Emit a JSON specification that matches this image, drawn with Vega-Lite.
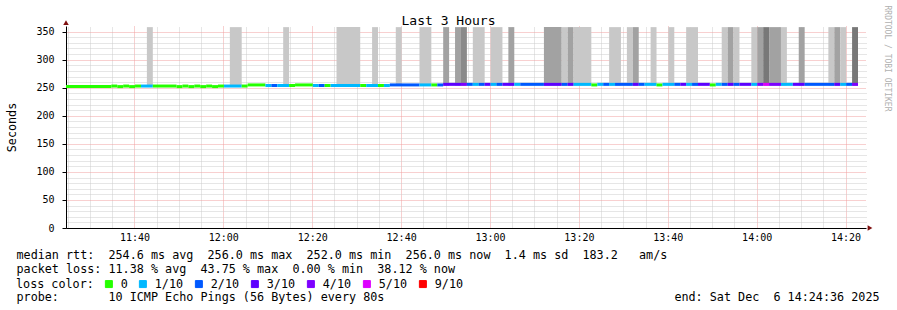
{
  "$schema": "https://vega.github.io/schema/vega-lite/v6.json",
  "width": 800,
  "height": 202,
  "autosize": {"type": "none"},
  "padding": {"left": 66, "top": 26, "right": 31, "bottom": 82},
  "background": "white",
  "config": {
    "font": "DejaVu Sans Mono",
    "view": {"stroke": null}
  },
  "datasets": {
    "median": [
      {"t0":"2025-12-06T11:24:36Z","t1":"2025-12-06T11:34:48Z","rtt":252,"loss":"0"},
      {"t0":"2025-12-06T11:34:48Z","t1":"2025-12-06T11:36:08Z","rtt":253,"loss":"0"},
      {"t0":"2025-12-06T11:36:08Z","t1":"2025-12-06T11:37:28Z","rtt":252,"loss":"0"},
      {"t0":"2025-12-06T11:37:28Z","t1":"2025-12-06T11:38:48Z","rtt":253,"loss":"0"},
      {"t0":"2025-12-06T11:38:48Z","t1":"2025-12-06T11:40:08Z","rtt":252,"loss":"0"},
      {"t0":"2025-12-06T11:40:08Z","t1":"2025-12-06T11:41:28Z","rtt":253,"loss":"0"},
      {"t0":"2025-12-06T11:41:28Z","t1":"2025-12-06T11:44:08Z","rtt":253,"loss":"1/10"},
      {"t0":"2025-12-06T11:44:08Z","t1":"2025-12-06T11:49:28Z","rtt":253,"loss":"0"},
      {"t0":"2025-12-06T11:49:28Z","t1":"2025-12-06T11:50:48Z","rtt":252,"loss":"0"},
      {"t0":"2025-12-06T11:50:48Z","t1":"2025-12-06T11:52:08Z","rtt":253,"loss":"0"},
      {"t0":"2025-12-06T11:52:08Z","t1":"2025-12-06T11:53:28Z","rtt":252,"loss":"0"},
      {"t0":"2025-12-06T11:53:28Z","t1":"2025-12-06T11:54:48Z","rtt":253,"loss":"0"},
      {"t0":"2025-12-06T11:54:48Z","t1":"2025-12-06T11:56:08Z","rtt":252,"loss":"0"},
      {"t0":"2025-12-06T11:56:08Z","t1":"2025-12-06T11:57:28Z","rtt":253,"loss":"0"},
      {"t0":"2025-12-06T11:57:28Z","t1":"2025-12-06T11:58:48Z","rtt":252,"loss":"0"},
      {"t0":"2025-12-06T11:58:48Z","t1":"2025-12-06T12:00:08Z","rtt":253,"loss":"0"},
      {"t0":"2025-12-06T12:00:08Z","t1":"2025-12-06T12:04:08Z","rtt":253,"loss":"1/10"},
      {"t0":"2025-12-06T12:04:08Z","t1":"2025-12-06T12:05:28Z","rtt":253,"loss":"0"},
      {"t0":"2025-12-06T12:05:28Z","t1":"2025-12-06T12:09:28Z","rtt":255,"loss":"0"},
      {"t0":"2025-12-06T12:09:28Z","t1":"2025-12-06T12:10:48Z","rtt":254,"loss":"1/10"},
      {"t0":"2025-12-06T12:10:48Z","t1":"2025-12-06T12:12:08Z","rtt":254,"loss":"2/10"},
      {"t0":"2025-12-06T12:12:08Z","t1":"2025-12-06T12:14:48Z","rtt":254,"loss":"1/10"},
      {"t0":"2025-12-06T12:14:48Z","t1":"2025-12-06T12:16:08Z","rtt":254,"loss":"0"},
      {"t0":"2025-12-06T12:16:08Z","t1":"2025-12-06T12:20:08Z","rtt":255,"loss":"0"},
      {"t0":"2025-12-06T12:20:08Z","t1":"2025-12-06T12:21:28Z","rtt":254,"loss":"1/10"},
      {"t0":"2025-12-06T12:21:28Z","t1":"2025-12-06T12:22:48Z","rtt":254,"loss":"2/10"},
      {"t0":"2025-12-06T12:22:48Z","t1":"2025-12-06T12:24:08Z","rtt":254,"loss":"0"},
      {"t0":"2025-12-06T12:24:08Z","t1":"2025-12-06T12:30:48Z","rtt":254,"loss":"1/10"},
      {"t0":"2025-12-06T12:30:48Z","t1":"2025-12-06T12:32:08Z","rtt":254,"loss":"0"},
      {"t0":"2025-12-06T12:32:08Z","t1":"2025-12-06T12:34:48Z","rtt":254,"loss":"1/10"},
      {"t0":"2025-12-06T12:34:48Z","t1":"2025-12-06T12:36:08Z","rtt":254,"loss":"0"},
      {"t0":"2025-12-06T12:36:08Z","t1":"2025-12-06T12:37:28Z","rtt":254,"loss":"1/10"},
      {"t0":"2025-12-06T12:37:28Z","t1":"2025-12-06T12:44:08Z","rtt":255,"loss":"2/10"},
      {"t0":"2025-12-06T12:44:08Z","t1":"2025-12-06T12:46:48Z","rtt":255,"loss":"1/10"},
      {"t0":"2025-12-06T12:46:48Z","t1":"2025-12-06T12:48:08Z","rtt":255,"loss":"0"},
      {"t0":"2025-12-06T12:48:08Z","t1":"2025-12-06T12:49:28Z","rtt":255,"loss":"2/10"},
      {"t0":"2025-12-06T12:49:28Z","t1":"2025-12-06T12:53:28Z","rtt":256,"loss":"3/10"},
      {"t0":"2025-12-06T12:53:28Z","t1":"2025-12-06T12:54:48Z","rtt":256,"loss":"4/10"},
      {"t0":"2025-12-06T12:54:48Z","t1":"2025-12-06T12:56:08Z","rtt":256,"loss":"2/10"},
      {"t0":"2025-12-06T12:56:08Z","t1":"2025-12-06T12:57:28Z","rtt":256,"loss":"1/10"},
      {"t0":"2025-12-06T12:57:28Z","t1":"2025-12-06T12:58:48Z","rtt":256,"loss":"2/10"},
      {"t0":"2025-12-06T12:58:48Z","t1":"2025-12-06T13:00:08Z","rtt":256,"loss":"3/10"},
      {"t0":"2025-12-06T13:00:08Z","t1":"2025-12-06T13:01:28Z","rtt":256,"loss":"1/10"},
      {"t0":"2025-12-06T13:01:28Z","t1":"2025-12-06T13:02:48Z","rtt":256,"loss":"2/10"},
      {"t0":"2025-12-06T13:02:48Z","t1":"2025-12-06T13:05:28Z","rtt":256,"loss":"3/10"},
      {"t0":"2025-12-06T13:05:28Z","t1":"2025-12-06T13:06:48Z","rtt":256,"loss":"1/10"},
      {"t0":"2025-12-06T13:06:48Z","t1":"2025-12-06T13:12:08Z","rtt":256,"loss":"2/10"},
      {"t0":"2025-12-06T13:12:08Z","t1":"2025-12-06T13:16:08Z","rtt":256,"loss":"3/10"},
      {"t0":"2025-12-06T13:16:08Z","t1":"2025-12-06T13:17:28Z","rtt":256,"loss":"2/10"},
      {"t0":"2025-12-06T13:17:28Z","t1":"2025-12-06T13:18:48Z","rtt":256,"loss":"3/10"},
      {"t0":"2025-12-06T13:18:48Z","t1":"2025-12-06T13:22:48Z","rtt":256,"loss":"1/10"},
      {"t0":"2025-12-06T13:22:48Z","t1":"2025-12-06T13:24:08Z","rtt":255,"loss":"0"},
      {"t0":"2025-12-06T13:24:08Z","t1":"2025-12-06T13:25:28Z","rtt":256,"loss":"1/10"},
      {"t0":"2025-12-06T13:25:28Z","t1":"2025-12-06T13:26:48Z","rtt":256,"loss":"2/10"},
      {"t0":"2025-12-06T13:26:48Z","t1":"2025-12-06T13:28:08Z","rtt":256,"loss":"1/10"},
      {"t0":"2025-12-06T13:28:08Z","t1":"2025-12-06T13:32:08Z","rtt":256,"loss":"2/10"},
      {"t0":"2025-12-06T13:32:08Z","t1":"2025-12-06T13:33:28Z","rtt":256,"loss":"3/10"},
      {"t0":"2025-12-06T13:33:28Z","t1":"2025-12-06T13:34:48Z","rtt":256,"loss":"2/10"},
      {"t0":"2025-12-06T13:34:48Z","t1":"2025-12-06T13:37:28Z","rtt":256,"loss":"1/10"},
      {"t0":"2025-12-06T13:37:28Z","t1":"2025-12-06T13:38:48Z","rtt":255,"loss":"0"},
      {"t0":"2025-12-06T13:38:48Z","t1":"2025-12-06T13:41:28Z","rtt":256,"loss":"1/10"},
      {"t0":"2025-12-06T13:41:28Z","t1":"2025-12-06T13:42:48Z","rtt":256,"loss":"2/10"},
      {"t0":"2025-12-06T13:42:48Z","t1":"2025-12-06T13:44:08Z","rtt":256,"loss":"3/10"},
      {"t0":"2025-12-06T13:44:08Z","t1":"2025-12-06T13:45:28Z","rtt":256,"loss":"1/10"},
      {"t0":"2025-12-06T13:45:28Z","t1":"2025-12-06T13:46:48Z","rtt":256,"loss":"2/10"},
      {"t0":"2025-12-06T13:46:48Z","t1":"2025-12-06T13:49:28Z","rtt":256,"loss":"3/10"},
      {"t0":"2025-12-06T13:49:28Z","t1":"2025-12-06T13:50:48Z","rtt":255,"loss":"0"},
      {"t0":"2025-12-06T13:50:48Z","t1":"2025-12-06T13:52:08Z","rtt":256,"loss":"1/10"},
      {"t0":"2025-12-06T13:52:08Z","t1":"2025-12-06T13:53:28Z","rtt":256,"loss":"2/10"},
      {"t0":"2025-12-06T13:53:28Z","t1":"2025-12-06T13:54:48Z","rtt":256,"loss":"3/10"},
      {"t0":"2025-12-06T13:54:48Z","t1":"2025-12-06T13:56:08Z","rtt":256,"loss":"2/10"},
      {"t0":"2025-12-06T13:56:08Z","t1":"2025-12-06T13:58:48Z","rtt":256,"loss":"3/10"},
      {"t0":"2025-12-06T13:58:48Z","t1":"2025-12-06T14:00:08Z","rtt":256,"loss":"1/10"},
      {"t0":"2025-12-06T14:00:08Z","t1":"2025-12-06T14:01:28Z","rtt":256,"loss":"4/10"},
      {"t0":"2025-12-06T14:01:28Z","t1":"2025-12-06T14:02:48Z","rtt":256,"loss":"5/10"},
      {"t0":"2025-12-06T14:02:48Z","t1":"2025-12-06T14:05:28Z","rtt":256,"loss":"4/10"},
      {"t0":"2025-12-06T14:05:28Z","t1":"2025-12-06T14:08:08Z","rtt":256,"loss":"1/10"},
      {"t0":"2025-12-06T14:08:08Z","t1":"2025-12-06T14:10:48Z","rtt":256,"loss":"3/10"},
      {"t0":"2025-12-06T14:10:48Z","t1":"2025-12-06T14:17:28Z","rtt":256,"loss":"2/10"},
      {"t0":"2025-12-06T14:17:28Z","t1":"2025-12-06T14:18:48Z","rtt":256,"loss":"3/10"},
      {"t0":"2025-12-06T14:18:48Z","t1":"2025-12-06T14:20:08Z","rtt":256,"loss":"1/10"},
      {"t0":"2025-12-06T14:20:08Z","t1":"2025-12-06T14:21:28Z","rtt":256,"loss":"2/10"},
      {"t0":"2025-12-06T14:21:28Z","t1":"2025-12-06T14:22:48Z","rtt":256,"loss":"4/10"}
    ],
    "smoke": [
      {"t0":"2025-12-06T11:42:48Z","t1":"2025-12-06T11:44:08Z","lo":254,"hi":358,"level":1},
      {"t0":"2025-12-06T12:01:28Z","t1":"2025-12-06T12:04:08Z","lo":254,"hi":358,"level":1},
      {"t0":"2025-12-06T12:13:28Z","t1":"2025-12-06T12:14:48Z","lo":254,"hi":358,"level":1},
      {"t0":"2025-12-06T12:25:28Z","t1":"2025-12-06T12:30:48Z","lo":254,"hi":358,"level":1},
      {"t0":"2025-12-06T12:33:28Z","t1":"2025-12-06T12:34:48Z","lo":254,"hi":358,"level":1},
      {"t0":"2025-12-06T12:38:48Z","t1":"2025-12-06T12:40:08Z","lo":254,"hi":358,"level":1},
      {"t0":"2025-12-06T12:44:08Z","t1":"2025-12-06T12:46:48Z","lo":254,"hi":358,"level":1},
      {"t0":"2025-12-06T12:49:28Z","t1":"2025-12-06T12:50:48Z","lo":254,"hi":358,"level":2},
      {"t0":"2025-12-06T12:52:08Z","t1":"2025-12-06T12:53:28Z","lo":254,"hi":358,"level":2},
      {"t0":"2025-12-06T12:53:28Z","t1":"2025-12-06T12:54:48Z","lo":254,"hi":358,"level":3},
      {"t0":"2025-12-06T12:56:08Z","t1":"2025-12-06T12:58:48Z","lo":254,"hi":358,"level":1},
      {"t0":"2025-12-06T13:00:08Z","t1":"2025-12-06T13:02:48Z","lo":254,"hi":358,"level":1},
      {"t0":"2025-12-06T13:04:08Z","t1":"2025-12-06T13:05:28Z","lo":254,"hi":358,"level":2},
      {"t0":"2025-12-06T13:12:08Z","t1":"2025-12-06T13:16:08Z","lo":254,"hi":358,"level":2},
      {"t0":"2025-12-06T13:16:08Z","t1":"2025-12-06T13:17:28Z","lo":254,"hi":358,"level":1},
      {"t0":"2025-12-06T13:17:28Z","t1":"2025-12-06T13:18:48Z","lo":254,"hi":358,"level":2},
      {"t0":"2025-12-06T13:18:48Z","t1":"2025-12-06T13:22:48Z","lo":254,"hi":358,"level":1},
      {"t0":"2025-12-06T13:26:48Z","t1":"2025-12-06T13:29:28Z","lo":254,"hi":358,"level":1},
      {"t0":"2025-12-06T13:30:48Z","t1":"2025-12-06T13:32:08Z","lo":254,"hi":358,"level":1},
      {"t0":"2025-12-06T13:32:08Z","t1":"2025-12-06T13:33:28Z","lo":254,"hi":358,"level":2},
      {"t0":"2025-12-06T13:36:08Z","t1":"2025-12-06T13:37:28Z","lo":254,"hi":358,"level":1},
      {"t0":"2025-12-06T13:40:08Z","t1":"2025-12-06T13:41:28Z","lo":254,"hi":358,"level":1},
      {"t0":"2025-12-06T13:44:08Z","t1":"2025-12-06T13:46:48Z","lo":254,"hi":358,"level":1},
      {"t0":"2025-12-06T13:52:08Z","t1":"2025-12-06T13:53:28Z","lo":254,"hi":358,"level":1},
      {"t0":"2025-12-06T13:53:28Z","t1":"2025-12-06T13:54:48Z","lo":254,"hi":358,"level":2},
      {"t0":"2025-12-06T13:54:48Z","t1":"2025-12-06T13:56:08Z","lo":254,"hi":358,"level":1},
      {"t0":"2025-12-06T13:58:48Z","t1":"2025-12-06T14:00:08Z","lo":254,"hi":358,"level":1},
      {"t0":"2025-12-06T14:00:08Z","t1":"2025-12-06T14:01:28Z","lo":254,"hi":358,"level":2},
      {"t0":"2025-12-06T14:01:28Z","t1":"2025-12-06T14:02:48Z","lo":254,"hi":358,"level":4},
      {"t0":"2025-12-06T14:02:48Z","t1":"2025-12-06T14:05:28Z","lo":254,"hi":358,"level":2},
      {"t0":"2025-12-06T14:05:28Z","t1":"2025-12-06T14:06:48Z","lo":254,"hi":358,"level":1},
      {"t0":"2025-12-06T14:09:28Z","t1":"2025-12-06T14:10:48Z","lo":254,"hi":358,"level":2},
      {"t0":"2025-12-06T14:16:08Z","t1":"2025-12-06T14:17:28Z","lo":254,"hi":358,"level":1},
      {"t0":"2025-12-06T14:17:28Z","t1":"2025-12-06T14:18:48Z","lo":254,"hi":358,"level":2},
      {"t0":"2025-12-06T14:18:48Z","t1":"2025-12-06T14:20:08Z","lo":254,"hi":358,"level":1},
      {"t0":"2025-12-06T14:21:28Z","t1":"2025-12-06T14:22:48Z","lo":254,"hi":358,"level":4}
    ]
  },
  "resolve": {"axis": {"x": "independent", "y": "independent"}},
  "layer": [
    {
      "data": {"name": "smoke"},
      "mark": {"type": "rect"},
      "encoding": {
        "x": {
          "field": "t0", "type": "temporal",
          "scale": {"type": "utc", "domain": [1765020276000, 1765031076000]},
          "axis": {
            "orient": "bottom",
            "values": [1765021200000,1765022400000,1765023600000,1765024800000,1765026000000,1765027200000,1765028400000,1765029600000,1765030800000],
            "format": "%H:%M",
            "labelOverlap": false,
            "labelBound": false,
            "labelFlush": false,
            "labelFont": "DejaVu Sans Mono",
            "labelFontSize": 10,
            "labelColor": "black",
            "labelPadding": 4,
            "ticks": false,
            "domainColor": "black",
            "grid": true,
            "gridColor": "#f0a0a0",
            "gridDash": [1, 1],
            "gridOpacity": 1,
            "title": [
              "median\u00a0rtt:\u00a0\u00a0254.6\u00a0ms\u00a0avg\u00a0\u00a0256.0\u00a0ms\u00a0max\u00a0\u00a0252.0\u00a0ms\u00a0min\u00a0\u00a0256.0\u00a0ms\u00a0now\u00a0\u00a01.4\u00a0ms\u00a0sd\u00a0\u00a0183.2\u00a0\u00a0\u00a0am/s",
              "packet\u00a0loss:\u00a011.38\u00a0%\u00a0avg\u00a0\u00a043.75\u00a0%\u00a0max\u00a0\u00a00.00\u00a0%\u00a0min\u00a0\u00a038.12\u00a0%\u00a0now"
            ],
            "titleX": -50,
            "titleY": 30,
            "titleAlign": "left",
            "titleAnchor": "start",
            "titleBaseline": "alphabetic",
            "titleLineHeight": 14,
            "titleFont": "DejaVu Sans Mono",
            "titleFontSize": 11.75,
            "titleFontWeight": "normal",
            "titleColor": "black"
          }
        },
        "x2": {"field": "t1"},
        "y": {
          "field": "lo", "type": "quantitative",
          "scale": {"domain": [0, 360], "nice": false, "zero": false},
          "axis": {
            "orient": "left",
            "values": [0, 50, 100, 150, 200, 250, 300, 350],
            "format": "%-L m",
            "formatType": "utc",
            "labelFont": "DejaVu Sans Mono",
            "labelFontSize": 10,
            "labelColor": "black",
            "labelPadding": 8,
            "labelOverlap": false,
            "labelBound": false,
            "labelFlush": false,
            "tickSize": 4,
            "tickColor": "black",
            "domainColor": "black",
            "grid": true,
            "gridColor": "#f0a0a0",
            "gridDash": [1, 1],
            "gridOpacity": 1,
            "title": "Seconds",
            "titleX": -54.5,
            "titleY": 101,
            "titleAngle": -90,
            "titleAlign": "center",
            "titleBaseline": "middle",
            "titleFont": "DejaVu Sans Mono",
            "titleFontSize": 11.75,
            "titleFontWeight": "normal",
            "titleColor": "black"
          }
        },
        "y2": {"field": "hi"},
        "fill": {
          "field": "level", "type": "ordinal",
          "scale": {"domain": [1, 2, 3, 4], "range": ["#c8c8c8", "#a2a2a2", "#8a8a8a", "#787878"]},
          "legend": null
        }
      }
    },
    {
      "data": {"name": "median"},
      "mark": {"type": "point", "shape": "square", "filled": true, "opacity": 0},
      "encoding": {
        "x": {
          "field": "t0", "type": "temporal",
          "axis": {
            "orient": "top",
            "values": [1765020300000,1765020600000,1765020900000,1765021500000,1765021800000,1765022100000,1765022700000,1765023000000,1765023300000,1765023900000,1765024200000,1765024500000,1765025100000,1765025400000,1765025700000,1765026300000,1765026600000,1765026900000,1765027500000,1765027800000,1765028100000,1765028700000,1765029000000,1765029300000,1765029900000,1765030200000,1765030500000],
            "labels": false, "ticks": false, "domain": false,
            "grid": true, "gridColor": "#cccccc", "gridDash": [1, 1], "gridOpacity": 1,
            "title": "Last 3 Hours",
            "titleX": 382,
            "titleY": -2,
            "titleAlign": "center",
            "titleBaseline": "alphabetic",
            "titleFont": "DejaVu Sans Mono",
            "titleFontSize": 13,
            "titleFontWeight": "normal",
            "titleColor": "black"
          }
        },
        "y": {
          "field": "rtt", "type": "quantitative",
          "axis": {
            "orient": "right",
            "values": [10,20,30,40,60,70,80,90,110,120,130,140,160,170,180,190,210,220,230,240,260,270,280,290,310,320,330,340],
            "labels": false, "ticks": false, "domain": false,
            "grid": true, "gridColor": "#cccccc", "gridDash": [1, 1], "gridOpacity": 1,
            "title": "RRDTOOL / TOBI OETIKER",
            "titleAngle": 90,
            "titleX": 20,
            "titleY": -21,
            "titleAlign": "left",
            "titleBaseline": "middle",
            "titleFont": "DejaVu Sans Mono",
            "titleFontSize": 8,
            "titleFontWeight": "normal",
            "titleColor": "#b0b0b0"
          }
        },
        "color": {
          "field": "loss", "type": "nominal",
          "scale": {
            "domain": ["0", "1/10", "2/10", "3/10", "4/10", "5/10", "9/10"],
            "range": ["#26ff00", "#00b8ff", "#0059ff", "#5e00ff", "#7e00ff", "#dd00ff", "#ff0000"]
          },
          "legend": {
            "orient": "none",
            "legendX": -50,
            "legendY": 252,
            "direction": "horizontal",
            "columns": 7,
            "title": "loss color:",
            "titleOrient": "left",
            "titlePadding": 9,
            "titleFont": "DejaVu Sans Mono",
            "titleFontSize": 11.75,
            "titleFontWeight": "normal",
            "titleColor": "black",
            "labelFont": "DejaVu Sans Mono",
            "labelFontSize": 11.75,
            "labelColor": "black",
            "labelOffset": 6,
            "columnPadding": 9,
            "symbolType": "square",
            "symbolSize": 49,
            "symbolOpacity": 1,
            "symbolStrokeWidth": 1,
            "symbolStrokeColor": "black"
          }
        }
      }
    },
    {
      "data": {"name": "median"},
      "mark": {"type": "rule", "strokeWidth": 3, "strokeCap": "butt"},
      "encoding": {
        "x": {
          "field": "t0", "type": "temporal",
          "axis": {
            "orient": "bottom",
            "labels": false, "ticks": false, "domain": false, "grid": false,
            "title": "probe:\u00a0\u00a0\u00a0\u00a0\u00a0\u00a0\u00a010\u00a0ICMP\u00a0Echo\u00a0Pings\u00a0(56\u00a0Bytes)\u00a0every\u00a080s\u00a0\u00a0\u00a0\u00a0\u00a0\u00a0\u00a0\u00a0\u00a0\u00a0\u00a0\u00a0\u00a0\u00a0\u00a0\u00a0\u00a0\u00a0\u00a0\u00a0\u00a0\u00a0\u00a0\u00a0\u00a0\u00a0\u00a0\u00a0\u00a0\u00a0\u00a0\u00a0\u00a0\u00a0\u00a0\u00a0\u00a0\u00a0\u00a0\u00a0\u00a0end:\u00a0Sat\u00a0Dec\u00a0\u00a06\u00a014:24:36\u00a02025",
            "titleX": -50,
            "titleY": 72,
            "titleAlign": "left",
            "titleAnchor": "start",
            "titleBaseline": "alphabetic",
            "titleFont": "DejaVu Sans Mono",
            "titleFontSize": 11.75,
            "titleFontWeight": "normal",
            "titleColor": "black"
          }
        },
        "x2": {"field": "t1"},
        "y": {"field": "rtt", "type": "quantitative", "axis": null},
        "color": {"field": "loss", "type": "nominal"}
      }
    },
    {
      "data": {"values": [{}]},
      "mark": {"type": "point", "shape": "triangle-right", "filled": true, "size": 30, "color": "#7f1010", "opacity": 1},
      "encoding": {
        "x": {"datum": 1765031130000, "type": "temporal", "axis": null},
        "y": {"datum": 0, "type": "quantitative", "axis": null}
      }
    },
    {
      "data": {"values": [{}]},
      "mark": {"type": "point", "shape": "triangle-up", "filled": true, "size": 30, "color": "#7f1010", "opacity": 1},
      "encoding": {
        "x": {"datum": 1765020276000, "type": "temporal", "axis": null},
        "y": {"datum": 366, "type": "quantitative", "axis": null}
      }
    }
  ]
}
